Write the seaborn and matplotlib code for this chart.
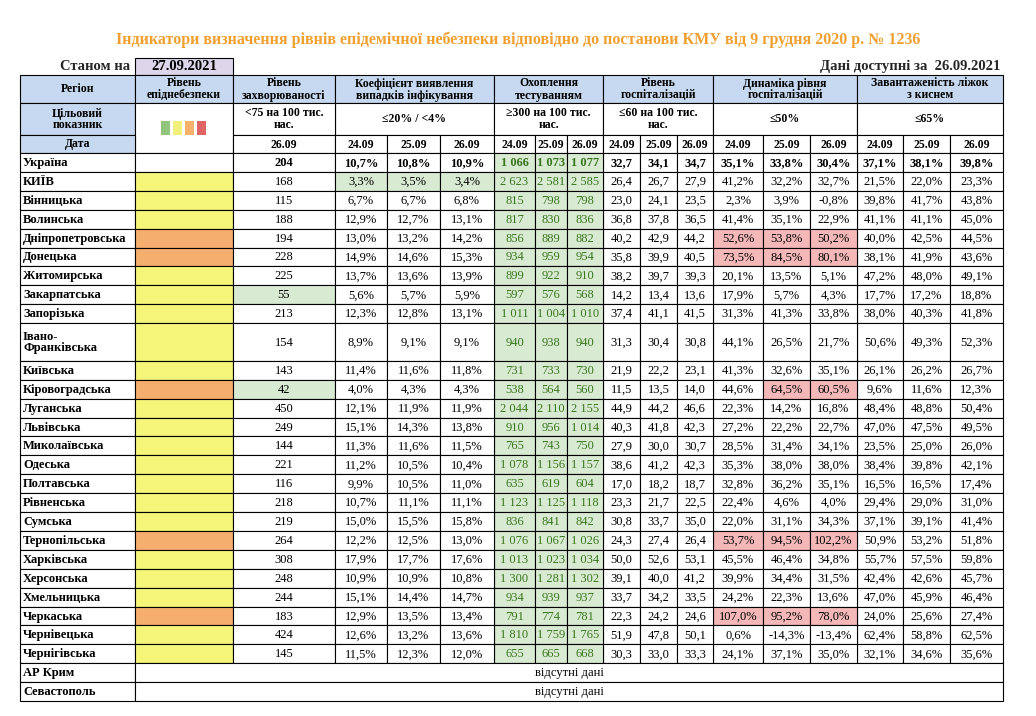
import matplotlib
matplotlib.use("Agg")
import matplotlib.pyplot as plt
from matplotlib.patches import Rectangle
import seaborn as sns

sns.set_style("white")
plt.rcParams['font.family'] = ['Liberation Serif', 'DejaVu Serif']

regions = ["Україна", "КИЇВ", "Вінницька", "Волинська", "Дніпропетровська", "Донецька",
           "Житомирська", "Закарпатська", "Запорізька", "Івано-\nФранківська", "Київська",
           "Кіровоградська", "Луганська", "Львівська", "Миколаївська", "Одеська", "Полтавська",
           "Рівненська", "Сумська", "Тернопільська", "Харківська", "Херсонська", "Хмельницька",
           "Черкаська", "Чернівецька", "Чернігівська"]
danger = ["", "y", "y", "y", "o", "o", "y", "y", "y", "y", "y", "o", "y", "y", "y", "y", "y",
          "y", "y", "o", "y", "y", "y", "o", "y", "y"]
incidence = [204, 168, 115, 188, 194, 228, 225, 55, 213, 154, 143, 42, 450, 249, 144, 221, 116,
             218, 219, 264, 308, 248, 244, 183, 424, 145]
coef = [[10.7, 10.8, 10.9], [3.3, 3.5, 3.4], [6.7, 6.7, 6.8], [12.9, 12.7, 13.1], [13.0, 13.2, 14.2],
        [14.9, 14.6, 15.3], [13.7, 13.6, 13.9], [5.6, 5.7, 5.9], [12.3, 12.8, 13.1], [8.9, 9.1, 9.1],
        [11.4, 11.6, 11.8], [4.0, 4.3, 4.3], [12.1, 11.9, 11.9], [15.1, 14.3, 13.8], [11.3, 11.6, 11.5],
        [11.2, 10.5, 10.4], [9.9, 10.5, 11.0], [10.7, 11.1, 11.1], [15.0, 15.5, 15.8], [12.2, 12.5, 13.0],
        [17.9, 17.7, 17.6], [10.9, 10.9, 10.8], [15.1, 14.4, 14.7], [12.9, 13.5, 13.4], [12.6, 13.2, 13.6],
        [11.5, 12.3, 12.0]]
testing = [[1066, 1073, 1077], [2623, 2581, 2585], [815, 798, 798], [817, 830, 836], [856, 889, 882],
           [934, 959, 954], [899, 922, 910], [597, 576, 568], [1011, 1004, 1010], [940, 938, 940],
           [731, 733, 730], [538, 564, 560], [2044, 2110, 2155], [910, 956, 1014], [765, 743, 750],
           [1078, 1156, 1157], [635, 619, 604], [1123, 1125, 1118], [836, 841, 842], [1076, 1067, 1026],
           [1013, 1023, 1034], [1300, 1281, 1302], [934, 939, 937], [791, 774, 781], [1810, 1759, 1765],
           [655, 665, 668]]
hosp = [[32.7, 34.1, 34.7], [26.4, 26.7, 27.9], [23.0, 24.1, 23.5], [36.8, 37.8, 36.5], [40.2, 42.9, 44.2],
        [35.8, 39.9, 40.5], [38.2, 39.7, 39.3], [14.2, 13.4, 13.6], [37.4, 41.1, 41.5], [31.3, 30.4, 30.8],
        [21.9, 22.2, 23.1], [11.5, 13.5, 14.0], [44.9, 44.2, 46.6], [40.3, 41.8, 42.3], [27.9, 30.0, 30.7],
        [38.6, 41.2, 42.3], [17.0, 18.2, 18.7], [23.3, 21.7, 22.5], [30.8, 33.7, 35.0], [24.3, 27.4, 26.4],
        [50.0, 52.6, 53.1], [39.1, 40.0, 41.2], [33.7, 34.2, 33.5], [22.3, 24.2, 24.6], [51.9, 47.8, 50.1],
        [30.3, 33.0, 33.3]]
dynamics = [[35.1, 33.8, 30.4], [41.2, 32.2, 32.7], [2.3, 3.9, -0.8], [41.4, 35.1, 22.9], [52.6, 53.8, 50.2],
            [73.5, 84.5, 80.1], [20.1, 13.5, 5.1], [17.9, 5.7, 4.3], [31.3, 41.3, 33.8], [44.1, 26.5, 21.7],
            [41.3, 32.6, 35.1], [44.6, 64.5, 60.5], [22.3, 14.2, 16.8], [27.2, 22.2, 22.7], [28.5, 31.4, 34.1],
            [35.3, 38.0, 38.0], [32.8, 36.2, 35.1], [22.4, 4.6, 4.0], [22.0, 31.1, 34.3], [53.7, 94.5, 102.2],
            [45.5, 46.4, 34.8], [39.9, 34.4, 31.5], [24.2, 22.3, 13.6], [107.0, 95.2, 78.0], [0.6, -14.3, -13.4],
            [24.1, 37.1, 35.0]]
beds = [[37.1, 38.1, 39.8], [21.5, 22.0, 23.3], [39.8, 41.7, 43.8], [41.1, 41.1, 45.0], [40.0, 42.5, 44.5],
        [38.1, 41.9, 43.6], [47.2, 48.0, 49.1], [17.7, 17.2, 18.8], [38.0, 40.3, 41.8], [50.6, 49.3, 52.3],
        [26.1, 26.2, 26.7], [9.6, 11.6, 12.3], [48.4, 48.8, 50.4], [47.0, 47.5, 49.5], [23.5, 25.0, 26.0],
        [38.4, 39.8, 42.1], [16.5, 16.5, 17.4], [29.4, 29.0, 31.0], [37.1, 39.1, 41.4], [50.9, 53.2, 51.8],
        [55.7, 57.5, 59.8], [42.4, 42.6, 45.7], [47.0, 45.9, 46.4], [24.0, 25.6, 27.4], [62.4, 58.8, 62.5],
        [32.1, 34.6, 35.6]]
dates = ["24.09", "25.09", "26.09"]
groups = ["Коефіцієнт виявлення\nвипадків інфікування", "Охоплення\nтестуванням",
          "Рівень\nгоспіталізацій", "Динаміка рівня\nгоспіталізацій", "Завантаженість ліжок\nз киснем"]
targets = ["≤20% / <4%", "≥300 на 100 тис.\nнас.", "≤60 на 100 тис.\nнас.", "≤50%", "≤65%"]
missing = ["АР Крим", "Севастополь"]

HEAD = "#c6d9f0"
GREEN = "#d9ead3"
YELLOW = "#f5f57a"
ORANGE = "#f6ae6e"
RED = "#f4b8b8"
LEVELS = {"y": YELLOW, "o": ORANGE, "": "white"}

fig = plt.figure(figsize=(10.36, 7.16), dpi=100)
ax = fig.add_axes([0, 0, 1, 1])
ax.set_xlim(0, 1036)
ax.set_ylim(716, 0)
ax.axis("off")

xe = [20, 135, 233, 335, 387, 440, 494, 535, 567, 603, 640, 677, 713, 763, 810, 857, 903, 950, 1003]
y_head = [75, 103, 135, 153]
rh = 18.9


def cell(x0, x1, y0, y1, text="", fc="white", bold=False, color="black", ha="center", size=9.5, lw=0.8):
    ax.add_patch(Rectangle((x0, y0), x1 - x0, y1 - y0, facecolor=fc, edgecolor="black", lw=lw))
    if text != "":
        tx = (x0 + x1) / 2 if ha == "center" else (x0 + 3 if ha == "left" else x1 - 4)
        ax.text(tx, (y0 + y1) / 2 + 0.5, text, ha=ha, va="center", fontsize=size,
                fontweight="bold" if bold else "normal", color=color, linespacing=1.0)


def pct(v):
    return f"{v:.1f}%".replace(".", ",")


def num1(v):
    return f"{v:.1f}".replace(".", ",")


def thou(v):
    return f"{v:,}".replace(",", " ")


ax.text(518, 40, "Індикатори визначення рівнів епідемічної небезпеки відповідно до постанови КМУ від 9 грудня 2020 р. № 1236",
        ha="center", va="center", fontsize=11.5, fontweight="bold", color="#f0a030")
ax.text(130, 66, "Станом на", ha="right", va="center", fontsize=10.5, fontweight="bold")
cell(135, 233, 58, 75, "27.09.2021", fc="#ddd5ea", bold=True, size=10.5)
ax.text(1000, 66, "Дані доступні за  26.09.2021", ha="right", va="center", fontsize=10.5, fontweight="bold")

# header
cell(xe[0], xe[1], y_head[0], y_head[1], "Регіон", fc=HEAD, bold=True, size=8.5)
cell(xe[1], xe[2], y_head[0], y_head[1], "Рівень\nепіднебезпеки", fc=HEAD, bold=True, size=8.5)
cell(xe[2], xe[3], y_head[0], y_head[1], "Рівень\nзахворюваності", fc=HEAD, bold=True, size=8.5)
for g in range(5):
    cell(xe[3 + 3 * g], xe[6 + 3 * g], y_head[0], y_head[1], groups[g], fc=HEAD, bold=True, size=8.5)
    cell(xe[3 + 3 * g], xe[6 + 3 * g], y_head[1], y_head[2], targets[g], bold=True, size=8.5)
cell(xe[0], xe[1], y_head[1], y_head[2], "Цільовий\nпоказник", fc=HEAD, bold=True, size=8.5)
cell(xe[1], xe[2], y_head[1], y_head[3], "")
for i, c in enumerate(["#93c47d", "#f0f07a", "#f6b26b", "#e06666"]):
    ax.add_patch(Rectangle((161 + i * 12, 121), 9, 14, facecolor=c, edgecolor="none"))
cell(xe[2], xe[3], y_head[1], y_head[2], "<75 на 100 тис.\nнас.", bold=True, size=8.5)
cell(xe[0], xe[1], y_head[2], y_head[3], "Дата", fc=HEAD, bold=True, size=8.5)
cell(xe[2], xe[3], y_head[2], y_head[3], "26.09", bold=True, size=8.5)
for k in range(15):
    cell(xe[3 + k], xe[4 + k], y_head[2], y_head[3], dates[k % 3], bold=True, size=8.5)

# data rows
y = y_head[3]
for i, reg in enumerate(regions):
    h = rh * 2 if "\n" in reg else rh
    b = i == 0
    cell(xe[0], xe[1], y, y + h, reg, bold=True, ha="left", size=9)
    cell(xe[1], xe[2], y, y + h, "", fc=LEVELS[danger[i]])
    cell(xe[2], xe[3], y, y + h, str(incidence[i]), bold=b, fc=GREEN if incidence[i] < 75 else "white", size=9)
    for j in range(3):
        c = coef[i][j]
        cell(xe[3 + j], xe[4 + j], y, y + h, pct(c), bold=b, fc=GREEN if c < 4 else "white", size=9)
        t = testing[i][j]
        cell(xe[6 + j], xe[7 + j], y, y + h, thou(t), bold=b, fc=GREEN if t >= 300 else "white",
             color="#38761d", size=9)
        cell(xe[9 + j], xe[10 + j], y, y + h, num1(hosp[i][j]), bold=b, size=9)
        d = dynamics[i][j]
        cell(xe[12 + j], xe[13 + j], y, y + h, pct(d), bold=b, fc=RED if d > 50 else "white", size=9)
        cell(xe[15 + j], xe[16 + j], y, y + h, pct(beds[i][j]), bold=b, size=9)
    y += h
for m in missing:
    cell(xe[0], xe[1], y, y + rh, m, bold=True, ha="left", size=9)
    cell(xe[1], xe[-1], y, y + rh, "відсутні дані", size=9)
    y += rh

fig.savefig("out.png", dpi=100)
